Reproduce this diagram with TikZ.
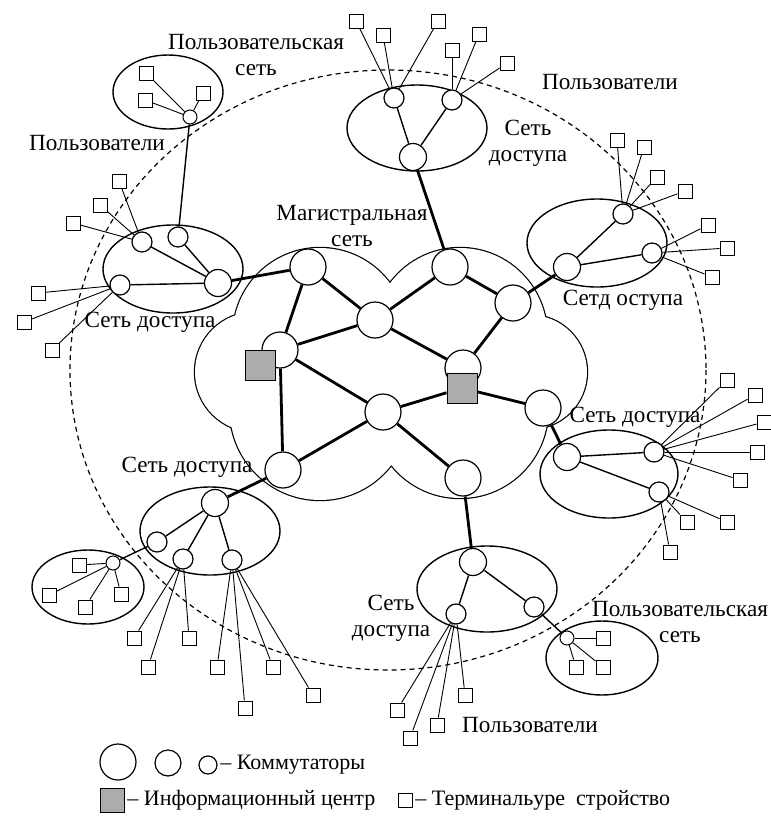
\documentclass[tikz,border=0pt]{standalone}
\usepackage{fontspec}
\setmainfont{Liberation Serif}
\usetikzlibrary{positioning}

\begin{document}
\begin{tikzpicture}[
    x=0.5pt, y=-0.5pt,
    bbnode/.style={circle, draw, fill=white, line width=0.6pt,
        minimum size=18pt, inner sep=0pt},
    accbig/.style={circle, draw, fill=white, line width=0.6pt,
        minimum size=13.5pt, inner sep=0pt},
    accsmall/.style={circle, draw, fill=white, line width=0.6pt,
        minimum size=10pt, inner sep=0pt},
    usrnode/.style={circle, draw, fill=white, line width=0.5pt,
        minimum size=7pt, inner sep=0pt},
    term/.style={rectangle, draw, fill=white, line width=0.5pt,
        minimum size=7pt, inner sep=0pt},
    infoc/.style={rectangle, draw, fill=gray!65, line width=0.5pt,
        minimum size=15pt, inner sep=0pt},
    bb/.style={line width=1.4pt},
    lnk/.style={line width=0.7pt},
    tl/.style={line width=0.45pt},
    net/.style={line width=0.7pt},
    lbl/.style={font=\fontsize{11.6}{13}\selectfont, align=center, inner sep=0pt},
    leg/.style={font=\fontsize{11}{12.5}\selectfont, inner sep=0pt, anchor=west},
]
\useasboundingbox (0,0) rectangle (771,816);

% Dashed border of the whole network
\draw[line width=0.6pt, dash pattern=on 2.5pt off 2pt] (388,370) ellipse [x radius=318, y radius=300];

% Backbone cloud
\draw[line width=1.2pt] (320,335) circle [radius=87] (460,335) circle [radius=87]
    (320,410) circle [radius=90] (460,410) circle [radius=88]
    (255,372) circle [radius=60] (530,372) circle [radius=57];
\fill[white] (320,335) circle [radius=87] (460,335) circle [radius=87]
    (320,410) circle [radius=90] (460,410) circle [radius=88]
    (255,372) circle [radius=60] (530,372) circle [radius=57];

% Access and user network outlines
\draw[net] (173,269) ellipse [x radius=70, y radius=44];
\draw[net] (168,92)  ellipse [x radius=55, y radius=37];
\draw[net] (417,128) ellipse [x radius=70, y radius=43];
\draw[net] (597,243) ellipse [x radius=70, y radius=44];
\draw[net] (609,474) ellipse [x radius=69, y radius=44];
\draw[net] (487,589) ellipse [x radius=70, y radius=43];
\draw[net] (602,658) ellipse [x radius=56, y radius=37];
\draw[net] (210,531) ellipse [x radius=70, y radius=44];
\draw[net] (88,587)  ellipse [x radius=56, y radius=37];

% Backbone switches
\node[bbnode] (bb1)  at (308,267) {};
\node[bbnode] (bb2)  at (450,267) {};
\node[bbnode] (bb3)  at (375,320) {};
\node[bbnode] (bb4)  at (513,303) {};
\node[bbnode] (bb5)  at (280,350) {};
\node[bbnode] (bb6)  at (463,368) {};
\node[bbnode] (bb7)  at (383,412) {};
\node[bbnode] (bb8)  at (543,408) {};
\node[bbnode] (bb9)  at (283,470) {};
\node[bbnode] (bb10) at (463,478) {};

% Information centres
\node[infoc] (ic1) at (260,365) {};
\node[infoc] (ic2) at (462,388) {};

% Backbone links
\draw[bb] (bb1) -- (bb3);
\draw[bb] (bb1) -- (bb5);
\draw[bb] (bb2) -- (bb3);
\draw[bb] (bb2) -- (bb4);
\draw[bb] (bb4) -- (bb6);
\draw[bb] (bb3) -- (bb5);
\draw[bb] (bb3) -- (bb6);
\draw[bb] (bb5) -- (bb7);
\draw[bb] (bb5) -- (bb9);
\draw[bb] (bb7) -- (ic2);
\draw[bb] (ic2) -- (bb8);
\draw[bb] (bb9) -- (bb7);
\draw[bb] (bb7) -- (bb10);

% West access network
\node[accsmall] (wa1) at (142,242) {};
\node[accsmall] (wa2) at (178,237) {};
\node[accbig]   (wa3) at (218,283) {};
\node[accsmall] (wa4) at (120,285) {};
\node[term] (wt1) at (119,181) {};
\node[term] (wt2) at (100,205) {};
\node[term] (wt3) at (73,223) {};
\node[term] (wt4) at (38,293) {};
\node[term] (wt5) at (24,322) {};
\node[term] (wt6) at (52,350) {};
\draw[lnk] (wa1) -- (wa3);
\draw[lnk] (wa2) -- (wa3);
\draw[lnk] (wa4) -- (wa3);
\draw[bb] (wa3) -- (bb1);
\draw[tl] (wa1) -- (wt1);
\draw[tl] (wa1) -- (wt2);
\draw[tl] (wa1) -- (wt3);
\draw[tl] (wa4) -- (wt4);
\draw[tl] (wa4) -- (wt5);
\draw[tl] (wa4) -- (wt6);

% North-west user network
\node[usrnode] (nu0) at (190,117) {};
\node[term] (nut1) at (146,73) {};
\node[term] (nut2) at (145,100) {};
\node[term] (nut3) at (203,93) {};
\draw[tl] (nu0) -- (nut1);
\draw[tl] (nu0) -- (nut2);
\draw[tl] (nu0) -- (nut3);
\draw[lnk] (wa2) -- (nu0);

% North access network
\node[accsmall] (na1) at (394,98) {};
\node[accsmall] (na2) at (452,100) {};
\node[accbig]   (na3) at (413,157) {};
\node[term] (nt1) at (356,21) {};
\node[term] (nt2) at (383,35) {};
\node[term] (nt3) at (438,21) {};
\node[term] (nt4) at (452,50) {};
\node[term] (nt5) at (479,34) {};
\node[term] (nt6) at (507,63) {};
\draw[lnk] (na1) -- (na3);
\draw[lnk] (na2) -- (na3);
\draw[bb] (na3) -- (bb2);
\draw[tl] (na1) -- (nt1);
\draw[tl] (na1) -- (nt2);
\draw[tl] (na1) -- (nt3);
\draw[tl] (na2) -- (nt4);
\draw[tl] (na2) -- (nt5);
\draw[tl] (na2) -- (nt6);

% North-east access network
\node[accsmall] (ra1) at (623,214) {};
\node[accsmall] (ra2) at (652,253) {};
\node[accbig]   (ra3) at (567,267) {};
\node[term] (rt1) at (617,140) {};
\node[term] (rt2) at (644,147) {};
\node[term] (rt3) at (657,177) {};
\node[term] (rt4) at (685,191) {};
\node[term] (rt5) at (708,225) {};
\node[term] (rt6) at (727,248) {};
\node[term] (rt7) at (712,277) {};
\draw[lnk] (ra1) -- (ra3);
\draw[lnk] (ra2) -- (ra3);
\draw[bb] (ra3) -- (bb4);
\draw[tl] (ra1) -- (rt1);
\draw[tl] (ra1) -- (rt2);
\draw[tl] (ra1) -- (rt3);
\draw[tl] (ra1) -- (rt4);
\draw[tl] (ra2) -- (rt5);
\draw[tl] (ra2) -- (rt6);
\draw[tl] (ra2) -- (rt7);

% East access network
\node[accbig]   (ea1) at (567,457) {};
\node[accsmall] (ea2) at (654,452) {};
\node[accsmall] (ea3) at (659,492) {};
\node[term] (et1) at (727,380) {};
\node[term] (et2) at (755,395) {};
\node[term] (et3) at (764,422) {};
\node[term] (et4) at (757,452) {};
\node[term] (et5) at (740,480) {};
\node[term] (et6) at (687,522) {};
\node[term] (et7) at (727,522) {};
\node[term] (et8) at (670,552) {};
\draw[lnk] (ea1) -- (ea2);
\draw[lnk] (ea1) -- (ea3);
\draw[bb] (ea1) -- (bb8);
\draw[tl] (ea2) -- (et1);
\draw[tl] (ea2) -- (et2);
\draw[tl] (ea2) -- (et3);
\draw[tl] (ea2) -- (et4);
\draw[tl] (ea2) -- (et5);
\draw[tl] (ea3) -- (et6);
\draw[tl] (ea3) -- (et7);
\draw[tl] (ea3) -- (et8);

% South access network
\node[accbig]   (da1) at (473,562) {};
\node[accsmall] (da2) at (456,614) {};
\node[accsmall] (da3) at (534,607) {};
\node[term] (dt1) at (397,710) {};
\node[term] (dt2) at (410,738) {};
\node[term] (dt3) at (437,725) {};
\node[term] (dt4) at (465,695) {};
\draw[lnk] (da1) -- (da2);
\draw[lnk] (da1) -- (da3);
\draw[bb] (da1) -- (bb10);
\draw[tl] (da2) -- (dt1);
\draw[tl] (da2) -- (dt2);
\draw[tl] (da2) -- (dt3);
\draw[tl] (da2) -- (dt4);

% South-east user network
\node[usrnode] (du0) at (567,638) {};
\node[term] (dut1) at (603,638) {};
\node[term] (dut2) at (576,667) {};
\node[term] (dut3) at (603,667) {};
\draw[lnk] (da3) -- (du0);
\draw[tl] (du0) -- (dut1);
\draw[tl] (du0) -- (dut2);
\draw[tl] (du0) -- (dut3);

% South-west access network
\node[accbig]   (ba1) at (215,503) {};
\node[accsmall] (ba2) at (157,542) {};
\node[accsmall] (ba3) at (183,559) {};
\node[accsmall] (ba4) at (232,560) {};
\node[term] (bt1) at (134,638) {};
\node[term] (bt2) at (148,667) {};
\node[term] (bt3) at (189,638) {};
\node[term] (bt4) at (217,667) {};
\node[term] (bt5) at (245,708) {};
\node[term] (bt6) at (273,667) {};
\node[term] (bt7) at (313,695) {};
\draw[lnk] (ba1) -- (ba2);
\draw[lnk] (ba1) -- (ba3);
\draw[lnk] (ba1) -- (ba4);
\draw[bb] (ba1) -- (bb9);
\draw[tl] (ba3) -- (bt1);
\draw[tl] (ba3) -- (bt2);
\draw[tl] (ba3) -- (bt3);
\draw[tl] (ba4) -- (bt4);
\draw[tl] (ba4) -- (bt5);
\draw[tl] (ba4) -- (bt6);
\draw[tl] (ba4) -- (bt7);

% South-west user network
\node[usrnode] (bu0) at (113,563) {};
\node[term] (but1) at (79,565) {};
\node[term] (but2) at (49,595) {};
\node[term] (but3) at (85,607) {};
\node[term] (but4) at (121,594) {};
\draw[lnk] (ba2) -- (bu0);
\draw[tl] (bu0) -- (but1);
\draw[tl] (bu0) -- (but2);
\draw[tl] (bu0) -- (but3);
\draw[tl] (bu0) -- (but4);

% Labels
\node[lbl] (lbnu)  at (256,55)  {Пользовательская\\сеть};
\node[lbl] (lbwu)  at (97,143)  {Пользователи};
\node[lbl] (lbwa)  at (150,322) {Сеть доступа};
\node[lbl] (lbbb)  at (352,226) {Магистральная\\сеть};
\node[lbl] (lbna)  at (528,143) {Сеть\\доступа};
\node[lbl] (lbnu2) at (610,82)  {Пользователи};
\node[lbl] (lbra)  at (623,300) {Сетд оступа};
\node[lbl] (lbea)  at (635,417) {Сеть доступа};
\node[lbl] (lbba)  at (187,467) {Сеть доступа};
\node[lbl] (lbda)  at (391,618) {Сеть\\доступа};
\node[lbl] (lbdu)  at (530,725) {Пользователи};
\node[lbl] (lbsu)  at (680,622) {Пользовательская\\сеть};

% Legend
\node[bbnode] (lg1) at (118,762) {};
\node[accbig, minimum size=13pt] (lg2) at (168,763) {};
\node[accsmall, minimum size=9pt] (lg3) at (208,765) {};
\node[leg] (lgt1) at (220,765) {– Коммутаторы};
\node[infoc, minimum size=12pt] (lg4) at (112,800) {};
\node[leg] (lgt2) at (127,800) {– Информационный центр};
\node[term] (lg5) at (405,800) {};
\node[leg] (lgt3) at (415,800) {– Терминальуре\ \ стройство};

\end{tikzpicture}
\end{document}
